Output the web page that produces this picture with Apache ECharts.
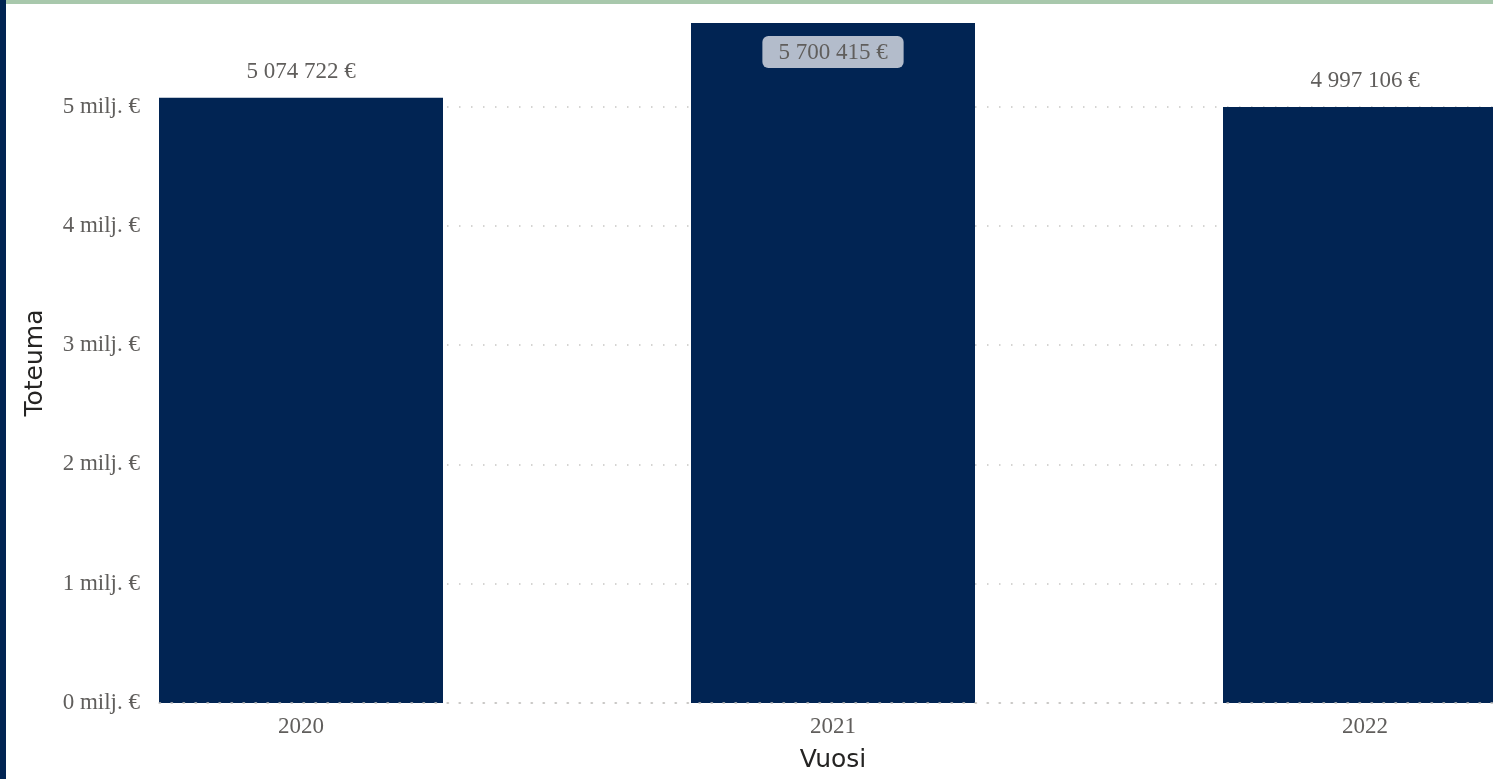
<!DOCTYPE html>
<html><head><meta charset="utf-8">
<script src="https://cdn.jsdelivr.net/npm/echarts@6/dist/echarts.min.js"></script>
<style>html,body{margin:0;padding:0;background:#fff}#c{width:1493px;height:779px}</style>
</head><body><div id="c"></div>
<script>
const years = ['2020', '2021', '2022'];
const totals = [5074722, 5700415, 4997106];
const yTicks = [0, 1000000, 2000000, 3000000, 4000000, 5000000];

const fmtEur = v => String(Math.round(v)).replace(/\B(?=(\d{3})+(?!\d))/g, ' ') + ' €';
const maxVal = Math.max(...totals);
const gridMax = 6000000;
const plotTop = 23, plotBottom = 76, plotH = 779 - plotTop - plotBottom;
const grid0Top = plotTop - (gridMax - maxVal) / maxVal * plotH;
const serif = '"Liberation Serif", "Times New Roman", serif';
const sans = '"DejaVu Sans", "Noto Sans", sans-serif';

const chart = echarts.init(document.getElementById('c'));
chart.setOption({
  animation: false,
  graphic: [
    {type: 'rect', shape: {x: 0, y: 0, width: 1493, height: 4}, style: {fill: '#a8c8ac'}, z: 100},
    {type: 'rect', shape: {x: 0, y: 0, width: 6, height: 779}, style: {fill: '#012453'}, z: 101}
  ],
  grid: [
    {left: 159, right: 0, top: grid0Top, bottom: plotBottom, outerBoundsMode: 'none', containLabel: false},
    {left: 35, width: 1596, top: plotTop, bottom: plotBottom, outerBoundsMode: 'none', containLabel: false}
  ],
  xAxis: [
    {gridIndex: 0, type: 'category', data: years, z: 5,
     axisLine: {show: true, lineStyle: {color: '#c8c6c4', type: [1.5, 10.5], width: 1.5}},
     axisTick: {show: false}, axisLabel: {show: false}, splitLine: {show: false}},
    {gridIndex: 1, type: 'category', data: years,
     axisLine: {show: false}, axisTick: {show: false},
     axisLabel: {color: '#605e5c', fontFamily: serif, fontSize: 23, margin: 12},
     name: 'Vuosi', nameLocation: 'middle', nameGap: 45,
     nameTextStyle: {color: '#252423', fontFamily: sans, fontSize: 25}}
  ],
  yAxis: [
    {gridIndex: 0, type: 'value', min: 0, max: gridMax, interval: 1000000,
     axisLine: {show: false}, axisTick: {show: false},
     axisLabel: {color: '#605e5c', fontFamily: serif, fontSize: 23, margin: 19, showMaxLabel: false,
       formatter: v => yTicks.includes(v) ? (v / 1000000) + ' milj. €' : ''},
     splitLine: {lineStyle: {color: '#c8c6c4', type: [1.5, 10.5], width: 1.5}}},
    {gridIndex: 1, type: 'value', min: 0, max: maxVal,
     axisLine: {show: false}, axisTick: {show: false}, axisLabel: {show: false}, splitLine: {show: false},
     name: 'Toteuma', nameLocation: 'middle', nameGap: -13, nameRotate: 90,
     nameTextStyle: {color: '#252423', fontFamily: sans, fontSize: 25}}
  ],
  series: [{
    type: 'bar', xAxisIndex: 1, yAxisIndex: 1,
    barWidth: 284,
    itemStyle: {color: '#012453'},
    label: {show: true, position: 'top', distance: 14, color: '#605e5c', fontFamily: serif, fontSize: 23,
      formatter: p => fmtEur(p.value)},
    data: totals.map((v, i) => v === maxVal ? {
      value: v,
      label: {position: 'insideTop', distance: 13, backgroundColor: '#b3bccb', borderRadius: 6,
        padding: [5, 16, 4, 16], color: '#605e5c'}
    } : v)
  }]
});
</script></body></html>
